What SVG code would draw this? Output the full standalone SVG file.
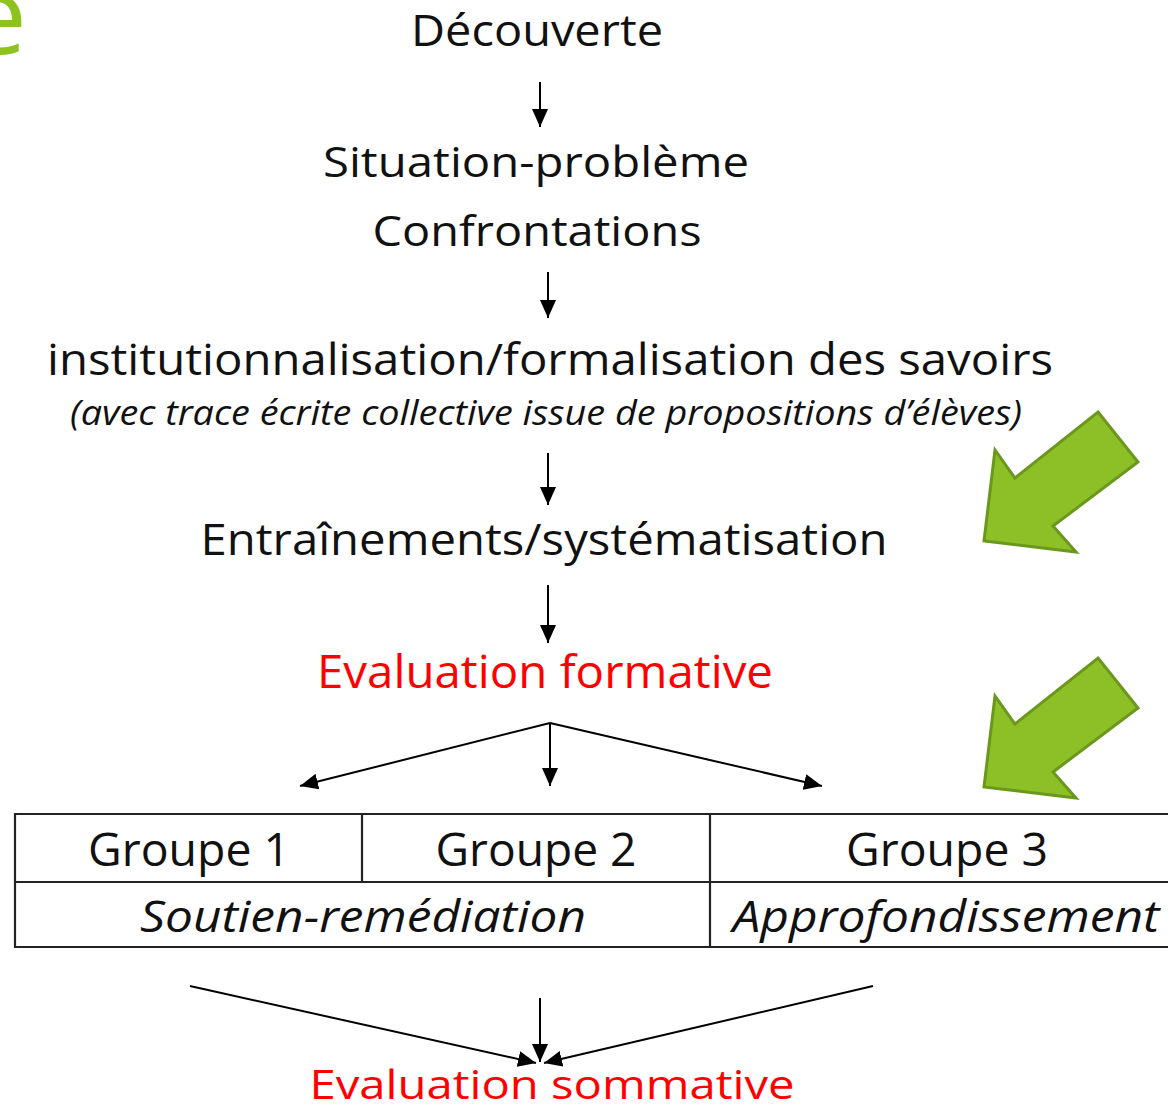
<svg xmlns="http://www.w3.org/2000/svg" width="1168" height="1110" viewBox="0 0 1168 1110">
<style>
.t{font-family:"Open Sans","Liberation Sans",sans-serif;fill:#111;text-anchor:middle}
.i{font-style:italic}
.red{fill:#ff0000}
.ln{stroke:#000;stroke-width:2;fill:none}
.tb{stroke:#222;stroke-width:2.2;fill:none}
.ga{fill:#8DBF27;stroke:#6A971C;stroke-width:3;stroke-linejoin:miter}
</style>
<defs>
<marker id="ah2" viewBox="0 0 10 10" refX="10" refY="5" markerWidth="18" markerHeight="16" markerUnits="userSpaceOnUse" orient="auto" preserveAspectRatio="none">
<path d="M0,0 L10,5 L0,10 Z" fill="#000"/>
</marker>
</defs>
<rect width="1168" height="1110" fill="#fff"/>
<g id="title-fragment">
<text x="27" y="54" font-family="Open Sans, Liberation Sans, sans-serif" font-size="108" fill="#8DC21F" text-anchor="end">e</text>
</g>
<g id="n-decouverte"><text class="t" x="537" y="46" font-size="44" textLength="252" lengthAdjust="spacingAndGlyphs">Découverte</text></g>
<g id="n-situation"><text class="t" x="536" y="177" font-size="42" textLength="426" lengthAdjust="spacingAndGlyphs">Situation-problème</text></g>
<g id="n-confrontations"><text class="t" x="537" y="246" font-size="42" textLength="329" lengthAdjust="spacingAndGlyphs">Confrontations</text></g>
<g id="n-institution">
<text class="t" x="550" y="375" font-size="44" textLength="1006" lengthAdjust="spacingAndGlyphs">institutionnalisation/formalisation des savoirs</text>
<text class="t i" x="546" y="425" font-size="34" textLength="952" lengthAdjust="spacingAndGlyphs">(avec trace écrite collective issue de propositions d’élèves)</text>
</g>
<g id="n-entrainements"><text class="t" x="544" y="555" font-size="44" textLength="687" lengthAdjust="spacingAndGlyphs">Entraînements/systématisation</text></g>
<g id="n-eval-formative"><text class="t red" x="545" y="688" font-size="45" textLength="456" lengthAdjust="spacingAndGlyphs">Evaluation formative</text></g>
<g id="n-groupes">
<line class="tb" x1="15" y1="814" x2="1170" y2="814"/>
<line class="tb" x1="15" y1="882" x2="1170" y2="882"/>
<line class="tb" x1="15" y1="947" x2="1170" y2="947"/>
<line class="tb" x1="15" y1="813" x2="15" y2="948"/>
<line class="tb" x1="362" y1="814" x2="362" y2="882"/>
<line class="tb" x1="710" y1="814" x2="710" y2="947"/>
<text class="t" x="189" y="866" font-size="45" textLength="202" lengthAdjust="spacingAndGlyphs">Groupe 1</text>
<text class="t" x="536" y="866" font-size="45" textLength="201" lengthAdjust="spacingAndGlyphs">Groupe 2</text>
<text class="t" x="947" y="866" font-size="45" textLength="202" lengthAdjust="spacingAndGlyphs">Groupe 3</text>
<text class="t i" x="363" y="932" font-size="44" textLength="446" lengthAdjust="spacingAndGlyphs">Soutien-remédiation</text>
<text class="t i" x="946" y="932" font-size="44" textLength="427" lengthAdjust="spacingAndGlyphs">Approfondissement</text>
</g>
<g id="n-eval-sommative"><text class="t red" x="552" y="1099" font-size="40" textLength="485" lengthAdjust="spacingAndGlyphs">Evaluation sommative</text></g>
<g id="green-arrows">
<polygon class="ga" points="1098,412 1138,462 1053,526 1076,552 984,541 995,450 1015,478"/>
<polygon class="ga" points="1098,658 1138,708 1053,772 1076,798 984,787 995,696 1015,724"/>
</g>
<g id="connectors">
<line class="ln" x1="540" y1="82" x2="540" y2="127" marker-end="url(#ah2)"/>
<line class="ln" x1="548" y1="272" x2="548" y2="318" marker-end="url(#ah2)"/>
<line class="ln" x1="548" y1="453" x2="548" y2="505" marker-end="url(#ah2)"/>
<line class="ln" x1="548" y1="585" x2="548" y2="643" marker-end="url(#ah2)"/>
<line class="ln" x1="550" y1="723" x2="300" y2="786" marker-end="url(#ah2)"/>
<line class="ln" x1="550" y1="723" x2="550" y2="786" marker-end="url(#ah2)"/>
<line class="ln" x1="550" y1="723" x2="822" y2="786" marker-end="url(#ah2)"/>
<line class="ln" x1="190" y1="986" x2="536" y2="1063" marker-end="url(#ah2)"/>
<line class="ln" x1="540" y1="998" x2="540" y2="1062" marker-end="url(#ah2)"/>
<line class="ln" x1="873" y1="986" x2="544" y2="1063" marker-end="url(#ah2)"/>
</g>
</svg>
